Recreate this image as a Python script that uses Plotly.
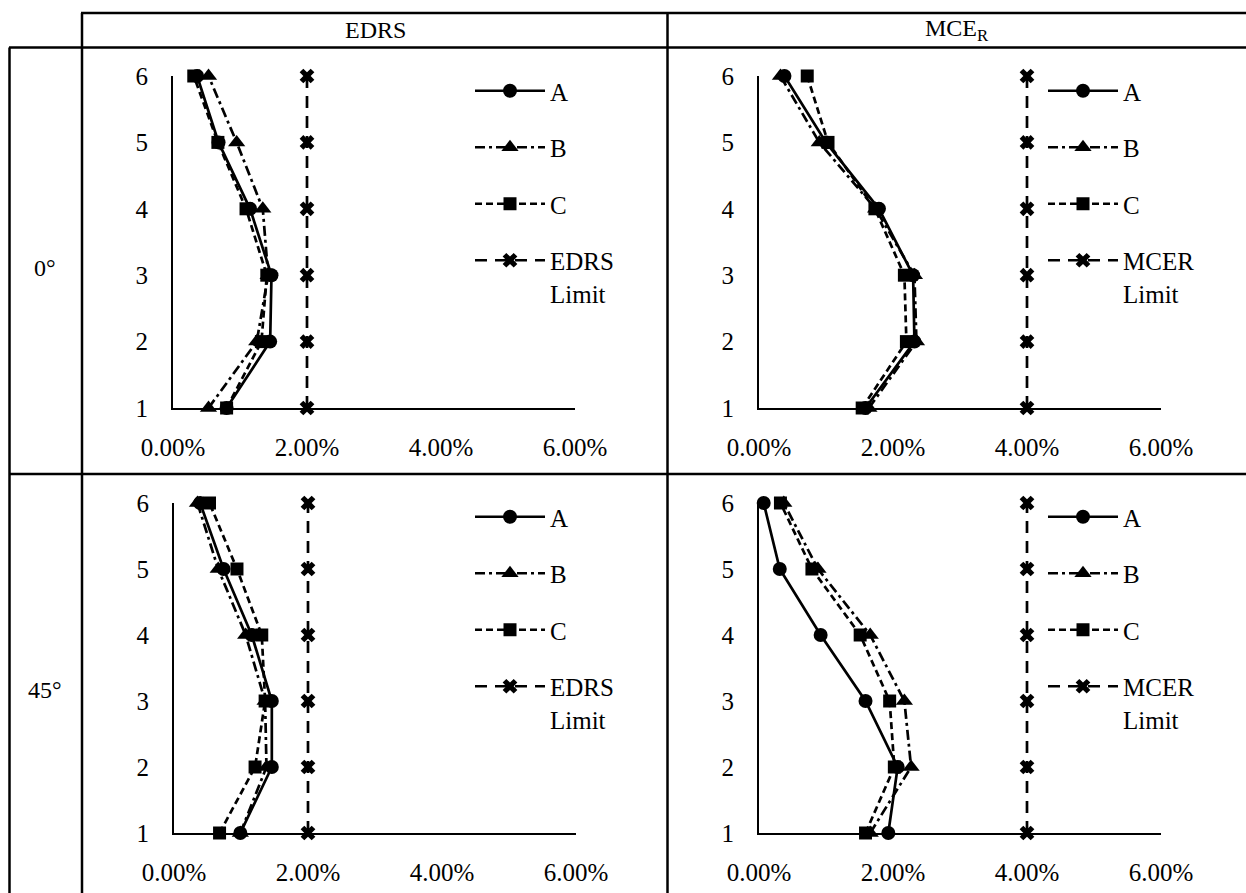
import plotly.graph_objects as go

# ---------------- data (drift ratio in %) ----------------
storeys = [1, 2, 3, 4, 5, 6]
x_ticks = [0, 2, 4, 6]
x_tick_labels = ["0.00%", "2.00%", "4.00%", "6.00%"]

edrs_0_A = [0.80, 1.45, 1.47, 1.15, 0.68, 0.36]
edrs_0_B = [0.53, 1.25, 1.42, 1.34, 0.95, 0.53]
edrs_0_C = [0.80, 1.32, 1.40, 1.09, 0.67, 0.31]
edrs_limit = [2.0, 2.0, 2.0, 2.0, 2.0, 2.0]

mcer_0_A = [1.59, 2.32, 2.30, 1.79, 1.00, 0.38]
mcer_0_B = [1.64, 2.35, 2.32, 1.74, 0.90, 0.32]
mcer_0_C = [1.54, 2.20, 2.17, 1.73, 1.03, 0.72]
mcer_limit = [4.0, 4.0, 4.0, 4.0, 4.0, 4.0]

edrs_45_A = [0.99, 1.46, 1.46, 1.16, 0.74, 0.39]
edrs_45_B = [0.99, 1.38, 1.36, 1.07, 0.66, 0.35]
edrs_45_C = [0.68, 1.21, 1.36, 1.31, 0.94, 0.53]

mcer_45_A = [1.93, 2.07, 1.59, 0.92, 0.31, 0.07]
mcer_45_B = [1.66, 2.27, 2.17, 1.66, 0.88, 0.37]
mcer_45_C = [1.59, 2.02, 1.95, 1.51, 0.79, 0.32]

col_titles = ["EDRS", "MCE<sub>R</sub>"]
row_titles = ["0°", "45°"]
series_names = ["A", "B", "C"]
limit_names = ["EDRS<br>Limit", "MCER<br>Limit"]

# ---------------- layout helpers ----------------
W, H = 1246, 893
FONT = "Liberation Serif"
TICK_SIZE = 25

def px_x(p):
    return p / W

def px_y(p):
    return 1 - p / H

panels = [
    ("", (173, 575), (76, 408), (edrs_0_A, edrs_0_B, edrs_0_C), edrs_limit, limit_names[0], "legend", (470, 68)),
    ("2", (759, 1161), (76, 408), (mcer_0_A, mcer_0_B, mcer_0_C), mcer_limit, limit_names[1], "legend2", (1043, 68)),
    ("3", (174, 576), (503, 833), (edrs_45_A, edrs_45_B, edrs_45_C), edrs_limit, limit_names[0], "legend3", (470, 494)),
    ("4", (759, 1161), (503, 833), (mcer_45_A, mcer_45_B, mcer_45_C), mcer_limit, limit_names[1], "legend4", (1043, 494)),
]

styles = [
    dict(dash="solid", symbol="circle", size=14),
    dict(dash="10px,4px,3px,4px", symbol="triangle-up", size=15),
    dict(dash="7px,4px", symbol="square", size=13),
]

fig = go.Figure()
layout = dict(
    width=W, height=H,
    autosize=False,
    margin=dict(l=0, r=0, t=0, b=0, pad=0, autoexpand=False),
    paper_bgcolor="white", plot_bgcolor="white",
    font=dict(family=FONT, size=TICK_SIZE, color="black"),
    showlegend=True,
)

for pid, (x0, x1), (yt, yb), data, limit, lname, leg, (lx, ly) in panels:
    xa = "x" + pid
    ya = "y" + pid
    for i, (vals, st) in enumerate(zip(data, styles)):
        fig.add_trace(go.Scatter(
            x=vals, y=storeys, xaxis=xa, yaxis=ya,
            mode="lines+markers", name=series_names[i],
            line=dict(color="black", width=2.7, dash=st["dash"]),
            marker=dict(color="black", symbol=st["symbol"], size=st["size"]),
            cliponaxis=False, legend=leg, legendgroup=leg + series_names[i],
        ))
    fig.add_trace(go.Scatter(
        x=limit, y=storeys, xaxis=xa, yaxis=ya,
        mode="lines+markers", name=lname,
        line=dict(color="black", width=2.7, dash="12px,8px"),
        marker=dict(color="black", symbol="x", size=13),
        cliponaxis=False, legend=leg, legendgroup=leg + "lim",
    ))
    layout["xaxis" + pid] = dict(
        domain=[px_x(x0), px_x(x1)], anchor=ya, range=[0, 6],
        tickvals=x_ticks, ticktext=x_tick_labels,
        showline=True, linecolor="black", linewidth=2,
        showgrid=False, zeroline=False, automargin=False,
        ticks="outside", ticklen=16, tickcolor="rgba(0,0,0,0)",
        tickfont=dict(family=FONT, size=TICK_SIZE, color="black"),
        fixedrange=True,
    )
    layout["yaxis" + pid] = dict(
        domain=[px_y(yb), px_y(yt)], anchor=xa, range=[1, 6],
        tickvals=storeys,
        showline=True, linecolor="black", linewidth=2,
        showgrid=False, zeroline=False, automargin=False,
        ticks="outside", ticklen=18, tickcolor="rgba(0,0,0,0)",
        tickfont=dict(family=FONT, size=TICK_SIZE, color="black"),
        fixedrange=True,
    )
    layout[leg] = dict(
        x=px_x(lx), y=px_y(ly), xanchor="left", yanchor="top",
        bgcolor="rgba(0,0,0,0)", borderwidth=0, valign="top",
        font=dict(family=FONT, size=TICK_SIZE, color="black"),
        tracegroupgap=21, itemwidth=70,
    )

# table grid
lw = 2.5
shapes = []
def hline(y, xa, xb):
    shapes.append(dict(type="line", xref="paper", yref="paper",
                       x0=px_x(xa), x1=px_x(xb), y0=px_y(y), y1=px_y(y),
                       line=dict(color="black", width=lw)))
def vline(x, ya, yb):
    shapes.append(dict(type="line", xref="paper", yref="paper",
                       x0=px_x(x), x1=px_x(x), y0=px_y(ya), y1=px_y(yb),
                       line=dict(color="black", width=lw)))

hline(13, 81, W)
hline(47.5, 9, W)
hline(474, 9, W)
vline(9.5, 47.5, H)
vline(82, 13, H)
vline(667.5, 13, H)
layout["shapes"] = shapes

annotations = []
for txt, cx in zip(col_titles, [375, 957]):
    annotations.append(dict(text=txt, x=px_x(cx), y=px_y(30), xref="paper", yref="paper",
                            showarrow=False, font=dict(family=FONT, size=24, color="black"),
                            xanchor="center", yanchor="middle"))
for txt, cy in zip(row_titles, [268, 690]):
    annotations.append(dict(text=txt, x=px_x(45), y=px_y(cy), xref="paper", yref="paper",
                            showarrow=False, font=dict(family=FONT, size=24, color="black"),
                            xanchor="center", yanchor="middle"))
layout["annotations"] = annotations

fig.update_layout(**layout)
fig.write_html(
    "out.html",
    post_script="document.body.style.margin='0';document.body.style.padding='0';",
)
